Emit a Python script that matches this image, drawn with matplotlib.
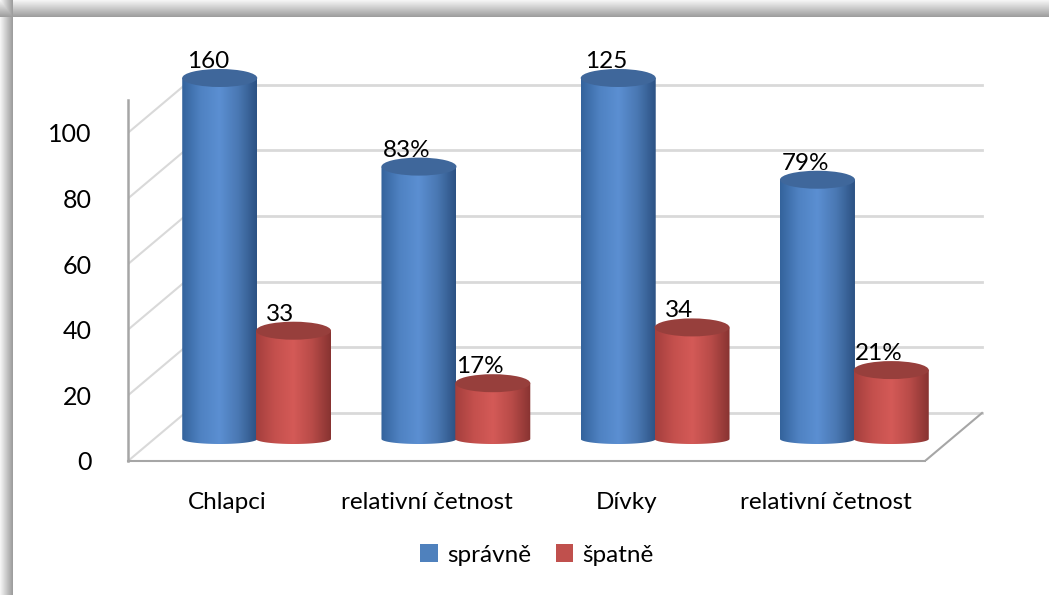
import numpy as np
import matplotlib
matplotlib.use('Agg')
import matplotlib.pyplot as plt
from matplotlib.colors import LinearSegmentedColormap
from matplotlib.patches import Ellipse, Patch, PathPatch
from matplotlib.path import Path

# ── Data ──
categories = ['Chlapci', 'relativní četnost', 'Dívky', 'relativní četnost']
spravne = [160, 83, 125, 79]
spatne = [33, 17, 34, 21]
value_fmt = ['{}', '{}%', '{}', '{}%']
series_names = ['správně', 'špatně']
yticks = [0, 20, 40, 60, 80, 100]
YMAX = 110

# ── Style ──
W, H = 1049, 595
FS = 17.5
BLUE, RED = '#4f81bd', '#c0504d'
cm_blue = LinearSegmentedColormap.from_list('b', ['#34639c', '#4f82c2', '#5b8fd2', '#4a78b3', '#2c5283'])
cm_red = LinearSegmentedColormap.from_list('r', ['#a43f3d', '#c4504d', '#d45a57', '#b84b48', '#873331'])
TOP_BLUE, TOP_RED = '#3f679b', '#973f3c'
plt.rcParams['font.family'] = ['Lato', 'DejaVu Sans']

fig = plt.figure(figsize=(W / 100, H / 100), dpi=100)

# frame shadow (top and left edges)
bg = fig.add_axes([0, 0, 1, 1], zorder=-10)
img = np.ones((H, W))
img[:17, :] = np.linspace(0.96, 0.62, 17)[:, None]
img[:, :13] = np.minimum(img[:, :13], np.linspace(0.96, 0.62, 13)[None, :])
bg.imshow(img, cmap='gray', vmin=0, vmax=1, aspect='auto', interpolation='bilinear')
bg.axis('off')

# front plane of the 3D box (axes box is larger so bars are not clipped)
L, R, B, T = 128, 925, 461, 100
ux = (R - L) / 4
uy = (B - T) / YMAX
XLIM, YLIM = 4.5, 125
ax = fig.add_axes([L / W, 1 - B / H, XLIM * ux / W, YLIM * uy / H])
bdx, bdy = 57 / ux, 48 / uy      # back wall offset
mdx, mdy = 29 / ux, 22 / uy      # bar depth offset
bw = 75 / ux
et, eb = 9 / uy, 5 / uy

# walls and floor
GRID = '#d9d9d9'
for t in yticks:
    ax.plot([bdx, 4 + bdx], [t + bdy] * 2, color=GRID, lw=2, zorder=1)
    ax.plot([0, bdx], [t, t + bdy], color=GRID, lw=1.5, zorder=1)
ax.plot([4, 4 + bdx], [0, bdy], color='#a6a6a6', lw=1.5, zorder=1)

grad = np.linspace(0, 1, 256)[None, :]


def cylinder(xc, v, cmap, topc, z):
    base = mdy
    top = mdy + min(v, YMAX)
    th = np.linspace(np.pi, 2 * np.pi, 60)
    arc = np.column_stack([xc + bw / 2 * np.cos(th), base + eb * np.sin(th)])
    verts = np.vstack([[[xc - bw / 2, top]], arc, [[xc + bw / 2, top]], [[xc - bw / 2, top]]])
    body = PathPatch(Path(verts, closed=True), facecolor='none', edgecolor='none')
    ax.add_patch(body)
    im = ax.imshow(grad, cmap=cmap, aspect='auto', interpolation='bilinear',
                   extent=(xc - bw / 2, xc + bw / 2, base - eb, top), zorder=z)
    im.set_clip_path(body)
    ax.add_patch(Ellipse((xc, top), bw, 2 * et, facecolor=topc, edgecolor='none',
                         zorder=z + 0.1))
    return top


for i in range(len(categories)):
    gc = i + 0.5 + mdx
    xb_ = gc - bw / 2 + 0.003
    xr_ = gc + bw / 2 - 0.003
    tb = cylinder(xb_, spravne[i], cm_blue, TOP_BLUE, 3 + i)
    tr = cylinder(xr_, spatne[i], cm_red, TOP_RED, 3.5 + i)
    ax.text(xb_ - 12 / ux, tb + et + 1 / uy, value_fmt[i].format(spravne[i]),
            ha='center', va='baseline', fontsize=FS, zorder=20, clip_on=False)
    ax.text(xr_ - 13 / ux, tr + et + 1 / uy, value_fmt[i].format(spatne[i]),
            ha='center', va='baseline', fontsize=FS, zorder=20, clip_on=False)

ax.set_xlim(0, XLIM)
ax.set_ylim(0, YLIM)
ax.patch.set_alpha(0)

# axes
for s in ['top', 'right']:
    ax.spines[s].set_visible(False)
ax.spines['left'].set_bounds(0, YMAX)
ax.spines['bottom'].set_bounds(0, 4)
ax.spines['left'].set_color('#a6a6a6'); ax.spines['left'].set_linewidth(1.8)
ax.spines['bottom'].set_color('#a6a6a6'); ax.spines['bottom'].set_linewidth(1.5)
ax.set_yticks(yticks)
ax.set_xticks(np.arange(len(categories)) + 0.5, categories)
ax.tick_params(axis='y', length=0, pad=26, labelsize=18)
ax.tick_params(axis='x', length=0, pad=22, labelsize=FS)

fig.legend(handles=[Patch(facecolor=BLUE), Patch(facecolor=RED)], labels=series_names,
           loc='center', bbox_to_anchor=(537 / W, 1 - 555 / H), ncol=2, frameon=False,
           fontsize=FS, handlelength=0.7, handleheight=0.7, handletextpad=0.4,
           columnspacing=1.0)

fig.savefig('out.png', dpi=100)
